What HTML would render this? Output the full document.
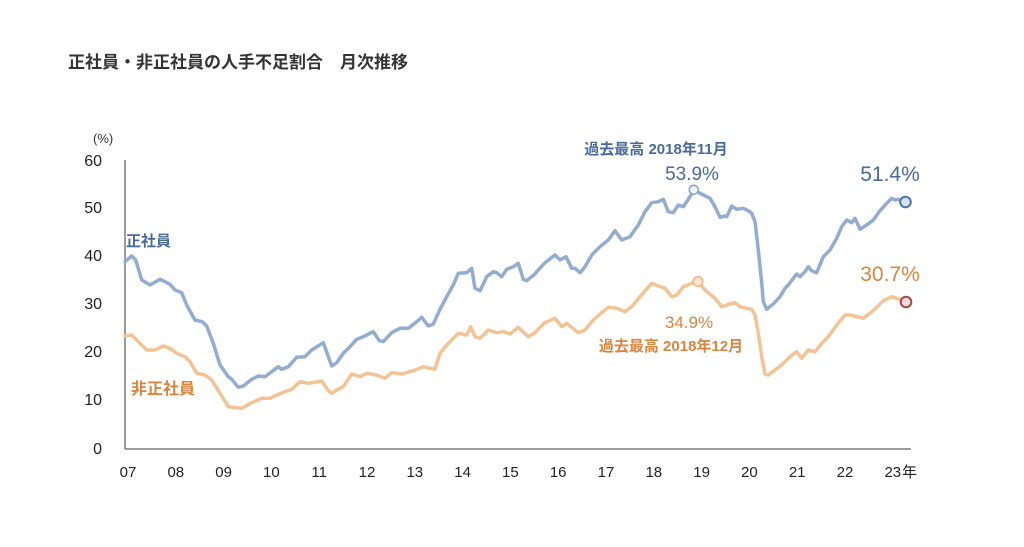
<!DOCTYPE html>
<html>
<head>
<meta charset="utf-8">
<style>
html,body{margin:0;padding:0;background:#fff;}
body{width:1024px;height:547px;overflow:hidden;}
svg{display:block;}
text{font-family:"Liberation Sans","Noto Sans CJK JP",sans-serif;}
</style>
</head>
<body>
<svg width="1024" height="547" viewBox="0 0 1024 547" xmlns="http://www.w3.org/2000/svg">
  <rect width="1024" height="547" fill="#fff"/>
  <!-- Title -->
  <text x="68" y="68" font-size="17" font-weight="bold" fill="#333">正社員・非正社員の人手不足割合　月次推移</text>

  <!-- unit -->
  <text x="93" y="143" font-size="13" fill="#333">(%)</text>

  <!-- Y axis labels -->
  <g font-size="16" fill="#222" text-anchor="end">
    <text x="102" y="166">60</text>
    <text x="102" y="213">50</text>
    <text x="102" y="261">40</text>
    <text x="102" y="309">30</text>
    <text x="102" y="357">20</text>
    <text x="102" y="405">10</text>
    <text x="102" y="454">0</text>
  </g>

  <!-- Axes -->
  <line x1="125" y1="160" x2="125" y2="449" stroke="#7a7a7a" stroke-width="1.5"/>
  <line x1="125" y1="449" x2="911" y2="449" stroke="#7a7a7a" stroke-width="1.5"/>

  <!-- X axis labels -->
  <g font-size="15" fill="#222" text-anchor="middle">
    <text x="128" y="477">07</text>
    <text x="175.8" y="477">08</text>
    <text x="223.6" y="477">09</text>
    <text x="271.4" y="477">10</text>
    <text x="319.2" y="477">11</text>
    <text x="367" y="477">12</text>
    <text x="414.8" y="477">13</text>
    <text x="462.6" y="477">14</text>
    <text x="510.4" y="477">15</text>
    <text x="558.2" y="477">16</text>
    <text x="606" y="477">17</text>
    <text x="653.8" y="477">18</text>
    <text x="701.6" y="477">19</text>
    <text x="749.4" y="477">20</text>
    <text x="797.2" y="477">21</text>
    <text x="845" y="477">22</text>
    <text x="892.8" y="477">23</text>
  </g>
  <text x="902" y="477" font-size="15" fill="#222">年</text>

  <!-- Blue series 正社員 -->
  <polyline fill="none" stroke="#93acd0" stroke-width="3.5" stroke-linejoin="round" stroke-linecap="round"
    points="125,261.7 131.7,256 135.7,260 141.7,280 150,285 160,279.3 165,281.7 170,284.3 175,290 181.7,292.7 186.7,305 195,320 202.3,321.7 206.7,326 213.3,343.3 220,365 228.3,376.7 231.7,379.3 238.3,387.3 243.3,386 251.7,379.3 258.3,376 265,376.7 271.7,371.7 278.3,366.7 281.7,369.3 288.3,366.7 296.7,357.3 305,356.7 311.7,350 323.3,342.7 331.7,366 336.7,362.7 343.3,353.3 350,346.7 356.7,339.3 363.3,336.7 373.3,331.7 379.3,340.7 383.3,341.7 391.7,332.7 400,328.3 408.3,328.3 416.7,321.7 421.7,317.3 428.3,326 433.3,324 440,309.3 446.7,296.7 453.3,285 458.3,273.3 466.7,272.7 471.7,268.3 475,288.3 480,290.7 486.7,276.7 493.3,271.7 496.7,272.7 501.7,276.7 506.7,269.3 513.3,266.7 518.3,263.3 523.3,279.3 526.7,280.7 535,274 536.7,271.7 545,262.7 555,255 560,260 566,256.7 571.7,268.3 575,268.3 580,272.7 585,266.7 591.7,255 600,246.7 608.3,240 615,230.7 621.7,240 630,236.7 638.3,225 645,211.7 651.7,202.7 658.3,201.7 663.3,199.3 668.3,211.7 673.3,212.7 678.3,205 683.3,206.7 688.3,199.3 694,190 700,193.3 710,198.3 715,206.7 720,217.3 725,216 726.7,216.7 731.7,206 736.7,209.3 743.3,208.3 750,211.7 751.7,213.3 755,221.7 758.3,250 761.7,283.3 763.3,301.7 766.7,309.3 773.3,304 780,296.7 785,288.3 788.3,285 793.3,278.3 796.7,274 800,276.7 805,271.7 808.3,266.7 811.7,270.7 816.7,272.7 823.3,256.7 830,250 836.7,238.3 841.7,226.7 846.7,220 851.7,222.7 855,218.3 860,229.3 866.7,225 873.3,220 880,210.7 886.7,203.3 891.7,198.3 895,200 898.3,199.3 905,202"/>

  <!-- Orange series 非正社員 -->
  <polyline fill="none" stroke="#f3c395" stroke-width="3.5" stroke-linejoin="round" stroke-linecap="round"
    points="125,336 131.7,335 138.3,341.7 146.7,350 155,350 163.3,346 170,348.3 176.7,353.3 185,356.7 190,361.7 196.7,373.3 205,375 211.7,380 220,393.3 228.3,406.7 241.7,408.3 251.7,402.7 261.7,398.3 270,398.3 276.7,395 285,391.7 291.7,389.3 300,381.7 308.3,383.3 321.7,381 328.3,390.7 331.7,393.3 336.7,390 343.3,386.7 351.7,374 360,376.7 366.7,373.3 376.7,375 385,378.3 391.7,372.7 401.7,374 413.3,370.7 423.3,366.7 430,368.3 435,369.3 440,353.3 446.7,345 458.3,333.3 466.7,335 470.7,326.7 475,336.7 480,338.3 488.3,330 496.7,332.7 503.3,331.7 510,334 518.3,327.3 528.3,336.7 535,332.7 540,327.3 545,322.7 555,318.3 561.7,326.7 566.7,323.3 578.3,332.7 585,330 591.7,321.7 600,314 608.3,307.3 616.7,308.3 625,311.7 631.7,306.7 640,296.7 651.7,283.3 658.3,286 665,288.3 671.7,296.7 676.7,295 683.3,286.7 690,284 698,281.5 705,290 715,298.3 721.7,306.7 730,304 735,302.7 740,306.7 746.7,308.3 751.7,309.3 755,315 758.3,333.3 761.7,356.7 765,374 768.3,375 775,370 781.7,365 788.3,358.3 793.3,354 796.7,351.7 801.7,358.3 808.3,350 815,351.7 821.7,343.3 828.3,336.7 836.7,325 845,315 850,315 856.7,316.7 863.3,318.3 870,313.3 876.7,307.3 883.3,300.7 891.7,296.7 896.7,298.3 905,302"/>

  <!-- Peak markers -->
  <circle cx="693.8" cy="189.8" r="4.5" fill="#f2f5fa" stroke="#8aa5cc" stroke-width="1.6"/>
  <circle cx="698" cy="281.5" r="4.8" fill="#fbe6d2" stroke="#efb888" stroke-width="1.6"/>

  <!-- End markers -->
  <circle cx="905.5" cy="202" r="5.3" fill="#d6e2f2" stroke="#4f76ac" stroke-width="2"/>
  <circle cx="906" cy="302" r="5.3" fill="#f6dada" stroke="#a54b4b" stroke-width="2"/>

  <!-- Series labels -->
  <text x="126" y="246" font-size="15" font-weight="bold" fill="#4a6a9b">正社員</text>
  <text x="131" y="394" font-size="16" font-weight="bold" fill="#d9843f">非正社員</text>

  <!-- Annotations blue -->
  <text x="656" y="154" font-size="15" font-weight="bold" fill="#4a6a9b" text-anchor="middle">過去最高 2018年11月</text>
  <text x="692" y="180" font-size="19" fill="#4a6a9b" text-anchor="middle">53.9%</text>
  <text x="890" y="181" font-size="21" fill="#4a6a9b" text-anchor="middle">51.4%</text>

  <!-- Annotations orange -->
  <text x="890" y="281" font-size="21" fill="#d9843f" text-anchor="middle">30.7%</text>
  <text x="689" y="328" font-size="17" fill="#d9843f" text-anchor="middle">34.9%</text>
  <text x="671" y="351" font-size="15" font-weight="bold" fill="#d9843f" text-anchor="middle">過去最高 2018年12月</text>
</svg>
</body>
</html>
